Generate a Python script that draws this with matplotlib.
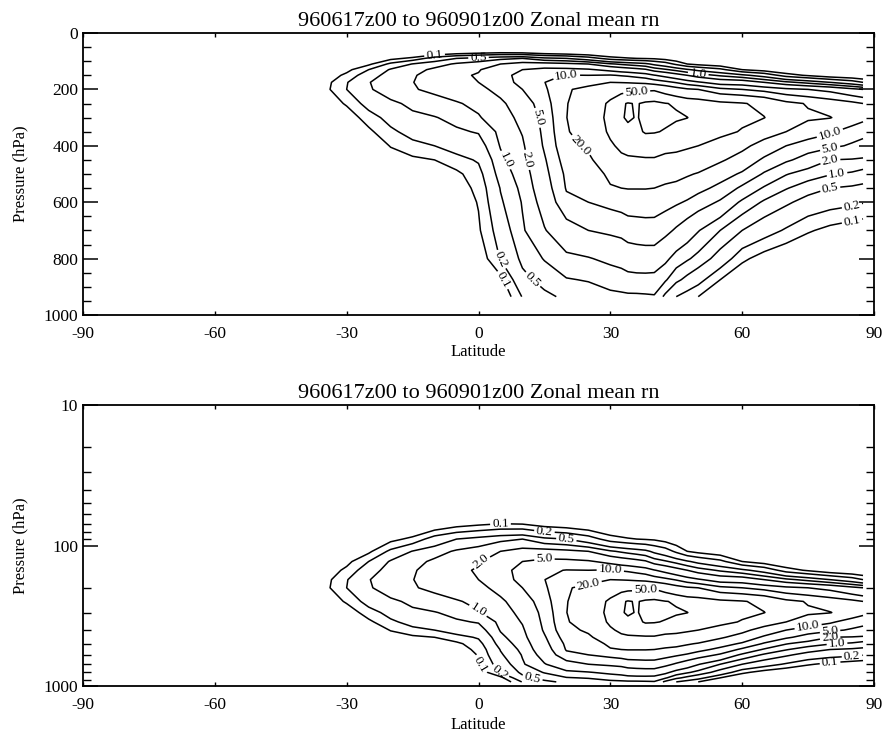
import numpy as np
import matplotlib.pyplot as plt
from matplotlib.ticker import MultipleLocator, FixedLocator, LogLocator, NullFormatter

plt.rcParams['font.family'] = ['Liberation Serif', 'DejaVu Serif']
plt.rcParams['axes.unicode_minus'] = False

title = '960617z00 to 960901z00 Zonal mean rn'
levels = [0.1, 0.2, 0.5, 1.0, 2.0, 5.0, 10.0, 20.0, 50.0, 100.0]

lat = [-45, -40, -35, -30, -25, -20, -15, -10, -5, 0, 5, 10, 15, 20, 25, 30,
       32.5, 34, 36, 38, 40, 42.5, 45, 47.5, 50, 55, 60, 65, 70, 75, 80, 85, 87.5]
pres = [50, 70, 90, 110, 130, 150, 175, 200, 250, 300, 350, 400, 450, 500,
        550, 600, 700, 800, 875, 935]

# zonal mean rn: one list per latitude, 50 hPa -> 935 hPa
rn = [
    [0.01, 0.01, 0.01, 0.015, 0.02, 0.025, 0.03, 0.03, 0.025, 0.02, 0.015, 0.012, 0.01, 0.01, 0.01, 0.01, 0.01, 0.01, 0.01, 0.01],
    [0.01, 0.01, 0.015, 0.02, 0.03, 0.04, 0.05, 0.05, 0.04, 0.03, 0.02, 0.015, 0.012, 0.01, 0.01, 0.01, 0.01, 0.01, 0.01, 0.01],
    [0.01, 0.01, 0.02, 0.03, 0.045, 0.06, 0.075, 0.08, 0.06, 0.04, 0.03, 0.02, 0.015, 0.012, 0.01, 0.01, 0.01, 0.01, 0.01, 0.01],
    [0.01, 0.015, 0.03, 0.05, 0.08, 0.12, 0.19, 0.2, 0.11, 0.065, 0.045, 0.03, 0.02, 0.015, 0.012, 0.01, 0.01, 0.01, 0.01, 0.01],
    [0.01, 0.02, 0.05, 0.085, 0.2, 0.33, 0.48, 0.45, 0.28, 0.14, 0.085, 0.05, 0.035, 0.025, 0.02, 0.015, 0.01, 0.01, 0.01, 0.01],
    [0.01, 0.03, 0.08, 0.24, 0.55, 0.72, 0.8, 0.78, 0.42, 0.27, 0.17, 0.105, 0.065, 0.045, 0.03, 0.02, 0.015, 0.01, 0.01, 0.01],
    [0.01, 0.04, 0.12, 0.52, 0.78, 0.92, 0.98, 0.95, 0.6, 0.42, 0.27, 0.16, 0.085, 0.06, 0.04, 0.03, 0.02, 0.015, 0.01, 0.01],
    [0.01, 0.05, 0.3, 0.75, 1.15, 1.4, 1.4, 1.15, 0.78, 0.48, 0.33, 0.2, 0.1, 0.065, 0.045, 0.035, 0.025, 0.02, 0.015, 0.01],
    [0.01, 0.07, 0.5, 1.1, 1.5, 1.8, 1.7, 1.35, 0.95, 0.62, 0.45, 0.3, 0.15, 0.085, 0.07, 0.06, 0.045, 0.03, 0.02, 0.015],
    [0.02, 0.085, 0.65, 1.35, 1.9, 2.1, 2.0, 1.6, 1.15, 0.95, 0.53, 0.35, 0.22, 0.15, 0.12, 0.105, 0.09, 0.06, 0.045, 0.035],
    [0.03, 0.1, 0.85, 2.0, 3.0, 3.8, 3.5, 2.6, 1.7, 1.4, 1.2, 1.05, 0.85, 0.7, 0.52, 0.45, 0.3, 0.21, 0.08, 0.05],
    [0.03, 0.095, 1.0, 2.6, 5.0, 6.5, 6.3, 5.0, 3.3, 2.5, 2.1, 1.8, 1.6, 1.35, 1.2, 1.05, 0.92, 0.6, 0.4, 0.21],
    [0.03, 0.07, 0.6, 2.7, 6.3, 9.0, 9.9, 9.0, 7.5, 6.5, 6.0, 5.5, 4.6, 4.0, 3.4, 2.8, 1.9, 1.05, 0.65, 0.42],
    [0.03, 0.06, 0.5, 2.4, 6.2, 10.2, 14, 19, 19.5, 19.8, 19, 17, 14, 11.5, 10.5, 8.5, 3.5, 1.7, 0.95, 0.58],
    [0.03, 0.05, 0.3, 2.0, 5.5, 10, 17, 23, 28, 30, 27, 22, 18, 14, 12, 10, 5.0, 1.9, 1.05, 0.7],
    [0.02, 0.04, 0.14, 1.1, 4.0, 10.5, 20, 33, 58, 62, 57, 45, 30, 23, 19, 12, 5.8, 2.4, 1.3, 0.85],
    [0.02, 0.035, 0.12, 0.9, 3.3, 9.5, 19.5, 38, 92, 95, 80, 58, 43, 27, 20, 13, 6.3, 2.7, 1.4, 0.88],
    [0.02, 0.03, 0.11, 0.8, 3.0, 9.0, 19, 41, 104, 107, 88, 64, 45, 29, 20.5, 14, 7.0, 3.2, 1.5, 0.9],
    [0.02, 0.03, 0.1, 0.7, 2.6, 8.0, 18, 43, 96, 97, 88, 66, 46, 29.5, 20.5, 14, 7.3, 3.4, 1.55, 0.9],
    [0.02, 0.03, 0.095, 0.6, 2.2, 7.0, 17, 45, 110, 112, 106, 68, 47, 30, 20.5, 14.2, 7.5, 3.5, 1.55, 0.92],
    [0.02, 0.03, 0.09, 0.42, 1.45, 5.2, 14.5, 46, 115, 118, 104, 68, 47, 30, 20, 14, 7.5, 3.5, 1.5, 0.95],
    [0.015, 0.025, 0.075, 0.3, 1.1, 3.9, 12, 36, 102, 113, 96, 62, 42, 26, 18, 12.5, 6.2, 2.4, 1.1, 0.42],
    [0.01, 0.02, 0.06, 0.17, 0.8, 2.8, 9.5, 27, 95, 106, 85, 60, 40, 24, 17, 11, 4.5, 1.5, 0.6, 0.2],
    [0.01, 0.015, 0.05, 0.1, 0.55, 2.0, 7.0, 22, 80, 101, 76, 55, 36, 21.5, 14.5, 9.3, 3.2, 1.1, 0.4, 0.14],
    [0.01, 0.01, 0.04, 0.08, 0.4, 1.4, 5.5, 20, 75, 85, 70, 50, 32, 19, 12, 7.5, 2.1, 0.8, 0.27, 0.1],
    [0.01, 0.01, 0.03, 0.06, 0.25, 0.9, 3.5, 12, 60, 68, 58, 40, 22, 13, 8.5, 4.5, 1.0, 0.35, 0.1, 0.06],
    [0.01, 0.01, 0.025, 0.04, 0.1, 0.6, 3.3, 10, 53, 56, 48, 24, 15, 9.2, 4.3, 1.7, 0.5, 0.12, 0.05, 0.03],
    [0.01, 0.01, 0.02, 0.03, 0.07, 0.35, 2.0, 8.0, 41, 51, 28, 15, 9.0, 4.6, 1.8, 0.9, 0.3, 0.07, 0.035, 0.02],
    [0.01, 0.01, 0.015, 0.025, 0.05, 0.14, 1.2, 6.0, 24, 30, 20, 10, 5.8, 2.1, 1.05, 0.58, 0.18, 0.05, 0.025, 0.015],
    [0.01, 0.01, 0.012, 0.02, 0.04, 0.09, 0.8, 5.0, 19, 22, 14, 7.5, 3.5, 1.4, 0.7, 0.36, 0.11, 0.04, 0.02, 0.01],
    [0.01, 0.01, 0.01, 0.015, 0.03, 0.06, 0.5, 4.0, 15, 20.5, 11, 6.0, 2.0, 1.05, 0.5, 0.28, 0.08, 0.03, 0.015, 0.01],
    [0.01, 0.01, 0.01, 0.012, 0.025, 0.05, 0.3, 2.5, 12, 15, 7.5, 4.5, 1.9, 0.9, 0.45, 0.24, 0.065, 0.025, 0.012, 0.01],
    [0.01, 0.01, 0.01, 0.01, 0.02, 0.045, 0.2, 2.0, 10, 12, 6.5, 3.8, 1.8, 0.75, 0.42, 0.21, 0.06, 0.02, 0.01, 0.01],
]

# where the contour labels sit (level, lat, pressure)
labels_top = [(0.1, -10, 90), (0.5, -2, 100), (1.0, 7, 455), (2.0, 10.7, 455),
              (5.0, 13.8, 291), (10.0, 22, 150), (20.0, 22.5, 369), (50.0, 37, 209),
              (1.0, 50, 140), (10.0, 80, 362), (5.0, 81, 415), (2.0, 82, 450),
              (1.0, 83, 503), (0.5, 80, 550), (0.2, 83, 635), (0.1, 83, 681),
              (0.2, 4.3, 840), (0.1, 5, 876), (0.5, 12.3, 887)]
labels_bot = [(0.1, 5, 70), (0.2, 15, 81), (0.5, 22.5, 92), (2.0, 2, 128),
              (5.0, 12.7, 122), (1.0, -1.4, 259), (10.0, 28.6, 155), (20.0, 24.7, 178),
              (50.0, 37.7, 203), (10.0, 77, 372), (5.0, 81.5, 430), (2.0, 80, 480),
              (1.0, 81, 540), (0.2, 84, 640), (0.1, 81, 710),
              (0.1, 0, 740), (0.2, 4, 820), (0.5, 12, 920)]

field = np.log10(np.array(rn).T)
log_levels = np.log10(levels)

fig = plt.figure(figsize=(8.84, 7.36), dpi=100)
ax1 = fig.add_axes([83 / 884, 1 - 315 / 736, 791 / 884, 282 / 736])
ax2 = fig.add_axes([83 / 884, 1 - 686 / 736, 791 / 884, 281 / 736])


def snap(ax, cs, value, x0, y0):
    # move a label position onto the nearest vertex of its own contour level
    verts = cs.get_paths()[levels.index(value)].vertices
    disp = ax.transData.transform(verts)
    target = ax.transData.transform((x0, y0))
    k = np.argmin(((disp - target) ** 2).sum(axis=1))
    return tuple(verts[k])


for ax, lab in [(ax1, labels_top), (ax2, labels_bot)]:
    ax.set_xlim(-90, 90)
    if ax is ax1:
        ax.set_ylim(1000, 0)
        ax.yaxis.set_major_locator(MultipleLocator(200))
        ax.yaxis.set_minor_locator(MultipleLocator(50))
    else:
        ax.set_yscale('log')
        ax.set_ylim(1000, 10)
        ax.yaxis.set_major_locator(FixedLocator([10, 100, 1000]))
        ax.yaxis.set_minor_locator(LogLocator(base=10, subs=np.arange(2, 10)))
        ax.yaxis.set_minor_formatter(NullFormatter())
        ax.set_yticklabels(['10', '100', '1000'])
    ax.xaxis.set_major_locator(MultipleLocator(30))
    cs = ax.contour(lat, pres, field, levels=log_levels, colors='k',
                    linewidths=1.1, linestyles='solid')
    pts = [snap(ax, cs, v, x, y) for v, x, y in lab]
    ax.clabel(cs, levels=cs.levels[:9], manual=pts, inline=True, inline_spacing=2,
              fontsize=9.5, fmt=lambda v: '%.1f' % (10 ** v))
    ax.set_title(title, fontsize=16, pad=5)
    ax.set_xlabel('Latitude', fontsize=12, labelpad=1 if ax is ax1 else 3)
    ax.set_ylabel('Pressure (hPa)', fontsize=12, labelpad=11)
    ax.tick_params(axis='x', which='major', direction='in', top=True, bottom=True,
                   length=3, width=1, labelsize=12.5, pad=8)
    ax.tick_params(axis='y', which='major', direction='in', left=True, right=True,
                   length=11, width=1.1, labelsize=12.5)
    ax.tick_params(axis='y', which='minor', direction='in', left=True, right=True,
                   length=6, width=1)
    for s in ax.spines.values():
        s.set_linewidth(1.3)

fig.savefig('out.png', dpi=100)
